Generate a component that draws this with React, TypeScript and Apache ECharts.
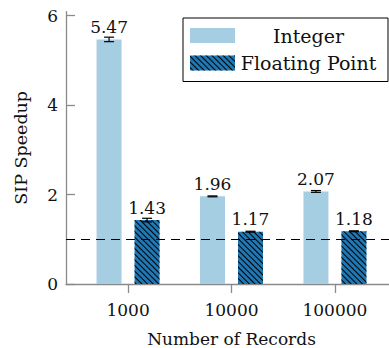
import React, { useEffect, useRef } from "react";
import * as echarts from "echarts";

const categories = ["1000", "10000", "100000"];
const integerValues = [5.47, 1.96, 2.07];
const integerErrors = [0.05, 0.01, 0.02];
const floatValues = [1.43, 1.17, 1.18];
const floatErrors = [0.04, 0.01, 0.01];
const yTicks = [0, 2, 4, 6];
const baselineValue = 1;

const FONT = "DejaVu Serif";
const BAR_WIDTH = 25;
const BAR_GAP = 13;
const AXIS_COLOR = "#8a8a8a";

export default function App() {
  const ref = useRef<HTMLDivElement>(null);

  useEffect(() => {
    document.body.style.margin = "0";
    const chart = echarts.init(ref.current!, null, { renderer: "svg" });
    const xs = categories.map((_, i) => i);
    const offset = (BAR_WIDTH + BAR_GAP) / 2;

    const errSeries = (vals: number[], errs: number[], dx: number, name: string) => ({
      type: "custom",
      name,
      silent: true,
      z: 6,
      encode: { x: 0, y: [1, 2] },
      data: vals.map((v, i) => [i, v - errs[i], v + errs[i]]),
      renderItem: (_params: any, api: any) => {
        const x = api.value(0);
        const lo = api.coord([x, api.value(1)]);
        const hi = api.coord([x, api.value(2)]);
        const cx = lo[0] + dx;
        const hw = 5;
        const st = { stroke: "#000", lineWidth: 1.2 };
        return {
          type: "group",
          children: [
            { type: "line", shape: { x1: cx, y1: lo[1], x2: cx, y2: hi[1] }, style: st },
            { type: "line", shape: { x1: cx - hw, y1: lo[1], x2: cx + hw, y2: lo[1] }, style: st },
            { type: "line", shape: { x1: cx - hw, y1: hi[1], x2: cx + hw, y2: hi[1] }, style: st },
          ],
        };
      },
    });

    const labelStyle = {
      show: true,
      position: "top",
      distance: 4,
      fontFamily: FONT,
      fontSize: 17,
      color: "#111",
      formatter: (p: any) => Number(p.value[1]).toFixed(2),
    };

    const decal = {
      symbol: "rect",
      symbolSize: 1,
      dashArrayX: [1, 0],
      dashArrayY: [1, 2.7],
      rotation: Math.PI / 4,
      color: "#000",
    };

    chart.setOption({
      animation: false,
      textStyle: { fontFamily: FONT },
      grid: { left: 66, right: -8, top: 11.7, bottom: 64, outerBoundsMode: "none", containLabel: false },
      legend: {
        data: ["Integer", "Floating Point"],
        orient: "vertical",
        left: 183,
        top: 18,
        icon: "rect",
        itemWidth: 45,
        itemHeight: 15,
        itemGap: 6.5,
        padding: [7, 11, 8, 7],
        borderColor: "#000",
        borderWidth: 1,
        backgroundColor: "#fff",
        formatter: (name: string) => `{t|${name}}`,
        textStyle: {
          fontFamily: FONT,
          fontSize: 19,
          lineHeight: 21,
          color: "#111",
          rich: {
            t: { width: 137, height: 21, align: "center", fontFamily: FONT, fontSize: 19, lineHeight: 21, color: "#111" },
          },
        },
      },
      xAxis: {
        type: "value",
        min: -0.6,
        max: 2.6,
        splitLine: { show: false },
        axisLine: { show: true, onZero: false, lineStyle: { color: AXIS_COLOR, width: 1.3 } },
        axisTick: { show: true, customValues: xs, length: 9, inside: false, lineStyle: { color: AXIS_COLOR, width: 1.3 } },
        axisLabel: {
          customValues: xs,
          formatter: (v: number) => categories[Math.round(v)] ?? "",
          margin: 17,
          fontFamily: FONT,
          fontSize: 17,
          color: "#111",
        },
        name: "Number of Records",
        nameLocation: "middle",
        nameGap: 46,
        nameTextStyle: { fontFamily: FONT, fontSize: 17, color: "#111" },
      },
      yAxis: {
        type: "value",
        min: 0,
        max: 6.09,
        splitLine: { show: false },
        axisLine: { show: true, onZero: false, lineStyle: { color: AXIS_COLOR, width: 1.3 } },
        axisTick: { show: true, customValues: yTicks, length: 9, inside: true, lineStyle: { color: AXIS_COLOR, width: 1.3 } },
        axisLabel: {
          customValues: yTicks,
          margin: 8,
          fontFamily: FONT,
          fontSize: 17,
          color: "#111",
        },
        name: "SIP Speedup",
        nameLocation: "middle",
        nameGap: 36,
        nameTextStyle: { fontFamily: FONT, fontSize: 17.5, color: "#111" },
      },
      series: [
        {
          type: "bar",
          name: "Integer",
          data: xs.map((i) => [i, integerValues[i]]),
          barWidth: BAR_WIDTH,
          barGap: `${(BAR_GAP / BAR_WIDTH) * 100}%`,
          itemStyle: { color: "#a6cee3" },
          label: labelStyle,
        },
        {
          type: "bar",
          name: "Floating Point",
          data: xs.map((i) => [i, floatValues[i]]),
          barWidth: BAR_WIDTH,
          barGap: `${(BAR_GAP / BAR_WIDTH) * 100}%`,
          itemStyle: { color: "#1f78b4", decal },
          label: labelStyle,
          markLine: {
            symbol: "none",
            silent: true,
            label: { show: false },
            lineStyle: { type: [9, 6], color: "#000", width: 1 },
            data: [{ yAxis: baselineValue }],
          },
        },
        errSeries(integerValues, integerErrors, -offset, "Integer error"),
        errSeries(floatValues, floatErrors, offset, "Floating Point error"),
      ],
    });

    return () => chart.dispose();
  }, []);

  return <div ref={ref} style={{ width: 389, height: 348 }} />;
}
